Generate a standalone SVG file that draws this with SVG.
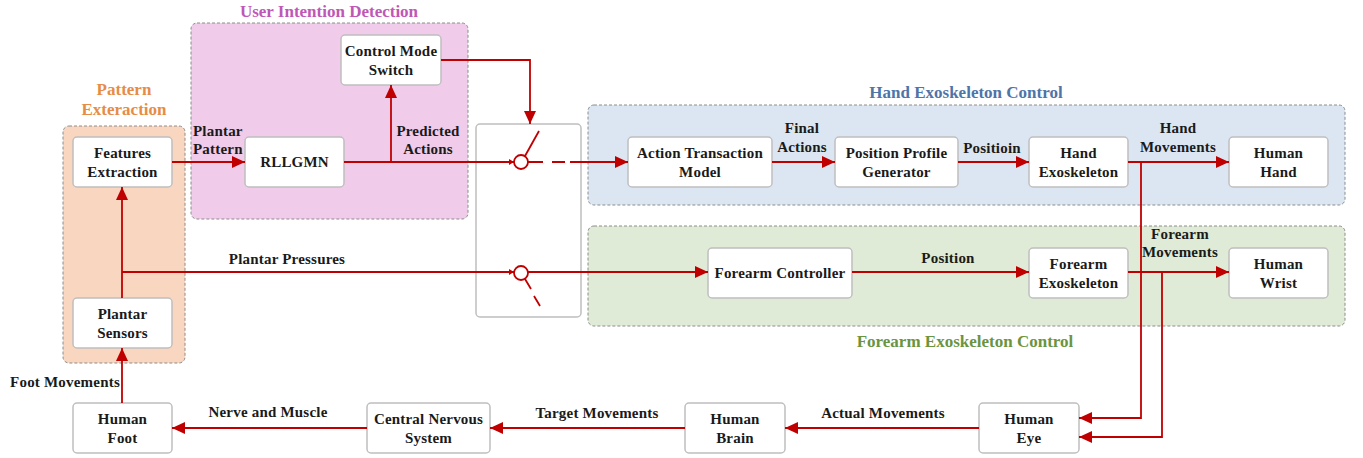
<svg xmlns="http://www.w3.org/2000/svg" width="1363" height="458" viewBox="0 0 1363 458">
<style>
.grp{stroke:#8c8c8c;stroke-width:1;stroke-dasharray:3,2}
.box{fill:#ffffff;stroke:#bfbfbf;stroke-width:1.5}
.t{font-family:"Liberation Serif","Times New Roman",serif;font-weight:bold;font-size:15px;letter-spacing:0.2px;fill:#1a1a1a;text-anchor:middle}
.tl{font-family:"Liberation Serif","Times New Roman",serif;font-weight:bold;font-size:17px;text-anchor:middle}
.ln{fill:none;stroke:#c00000;stroke-width:1.8}
.arr{marker-end:url(#ah)}
.sarr{marker-end:url(#sa)}
</style>
<defs>
<marker id="ah" markerUnits="userSpaceOnUse" markerWidth="14" markerHeight="12" refX="13" refY="6" orient="auto">
<path d="M0,0 L13,6 L0,12 z" fill="#c00000"/>
</marker>
<marker id="sa" markerUnits="userSpaceOnUse" markerWidth="6" markerHeight="6" refX="5" refY="3" orient="auto">
<path d="M0,0 L5,3 L0,6 z" fill="#c00000"/>
</marker>
</defs>

<!-- group backgrounds -->
<g id="group-pattern">
<rect class="grp" x="63" y="126" width="122" height="237" rx="6" fill="#f8d6c0"/>
<text class="tl" x="124" y="95" fill="#e68c46">Pattern</text>
<text class="tl" x="124" y="115" fill="#e68c46">Exteraction</text>
</g>
<g id="group-intention">
<rect class="grp" x="191" y="23" width="277" height="196" rx="6" fill="#f0cbea"/>
<text class="tl" x="329" y="17" fill="#c057b6">User Intention Detection</text>
</g>
<g id="group-hand">
<rect class="grp" x="588" y="105" width="757" height="100" rx="6" fill="#dce6f2"/>
<text class="tl" x="966" y="98" fill="#4f74a8">Hand Exoskeleton Control</text>
</g>
<g id="group-forearm">
<rect class="grp" x="588" y="226" width="757" height="100" rx="6" fill="#dfebd6"/>
<text class="tl" x="965" y="347" fill="#6b9440">Forearm Exoskeleton Control</text>
</g>

<!-- nodes -->
<g id="features-extraction">
<rect class="box" x="73" y="137" width="99" height="50" rx="4"/>
<text class="t" x="122.5" y="158">Features</text>
<text class="t" x="122.5" y="177">Extraction</text>
</g>
<g id="plantar-sensors">
<rect class="box" x="73" y="298" width="99" height="50" rx="4"/>
<text class="t" x="122.5" y="319">Plantar</text>
<text class="t" x="122.5" y="338">Sensors</text>
</g>
<g id="human-foot">
<rect class="box" x="73" y="403" width="99" height="50" rx="4"/>
<text class="t" x="122.5" y="424">Human</text>
<text class="t" x="122.5" y="443">Foot</text>
</g>
<g id="control-mode-switch">
<rect class="box" x="341" y="35" width="100" height="50" rx="4"/>
<text class="t" x="391" y="56">Control Mode</text>
<text class="t" x="391" y="75">Switch</text>
</g>
<g id="rllgmn">
<rect class="box" x="245" y="137" width="99" height="50" rx="4"/>
<text class="t" x="294.5" y="167">RLLGMN</text>
</g>
<g id="switch">
<rect class="box" x="476" y="124" width="105" height="193" rx="4" stroke="#a6a6a6"/>
</g>
<g id="action-transaction-model">
<rect class="box" x="628" y="137" width="144" height="50" rx="4"/>
<text class="t" x="700" y="158">Action Transaction</text>
<text class="t" x="700" y="177">Model</text>
</g>
<g id="position-profile-generator">
<rect class="box" x="835" y="137" width="123" height="50" rx="4"/>
<text class="t" x="896.5" y="158">Position Profile</text>
<text class="t" x="896.5" y="177">Generator</text>
</g>
<g id="hand-exoskeleton">
<rect class="box" x="1029" y="137" width="99" height="50" rx="4"/>
<text class="t" x="1078.5" y="158">Hand</text>
<text class="t" x="1078.5" y="177">Exoskeleton</text>
</g>
<g id="human-hand">
<rect class="box" x="1229" y="137" width="99" height="50" rx="4"/>
<text class="t" x="1278.5" y="158">Human</text>
<text class="t" x="1278.5" y="177">Hand</text>
</g>
<g id="forearm-controller">
<rect class="box" x="708" y="248" width="144" height="50" rx="4"/>
<text class="t" x="780" y="278">Forearm Controller</text>
</g>
<g id="forearm-exoskeleton">
<rect class="box" x="1029" y="248" width="99" height="50" rx="4"/>
<text class="t" x="1078.5" y="269">Forearm</text>
<text class="t" x="1078.5" y="288">Exoskeleton</text>
</g>
<g id="human-wrist">
<rect class="box" x="1229" y="248" width="99" height="50" rx="4"/>
<text class="t" x="1278.5" y="269">Human</text>
<text class="t" x="1278.5" y="288">Wrist</text>
</g>
<g id="central-nervous-system">
<rect class="box" x="367" y="403" width="123" height="50" rx="4"/>
<text class="t" x="428.5" y="424">Central Nervous</text>
<text class="t" x="428.5" y="443">System</text>
</g>
<g id="human-brain">
<rect class="box" x="685" y="403" width="100" height="50" rx="4"/>
<text class="t" x="735" y="424">Human</text>
<text class="t" x="735" y="443">Brain</text>
</g>
<g id="human-eye">
<rect class="box" x="979" y="403" width="100" height="50" rx="4"/>
<text class="t" x="1029" y="424">Human</text>
<text class="t" x="1029" y="443">Eye</text>
</g>

<!-- connectors -->
<g id="connectors">
<path class="ln arr" d="M172,162 H245"/>
<path class="ln sarr" d="M344,162 H514"/>
<path class="ln arr" d="M391,162 V85"/>
<path class="ln arr" d="M441,60 H530 V124"/>
<circle cx="521" cy="162" r="7" fill="#ffffff" stroke="#c00000" stroke-width="1.8"/>
<path class="ln" d="M525,156 L539,131"/>
<path class="ln" d="M528,162 H543 M552,162 H565"/>
<path class="ln arr" d="M570,162 H628"/>
<path class="ln arr" d="M122,298 V187"/>
<path class="ln sarr" d="M122,272 H514"/>
<circle cx="521" cy="273" r="7" fill="#ffffff" stroke="#c00000" stroke-width="1.8"/>
<path class="ln" d="M525,279 L531,289 M534,296 L540,306"/>
<path class="ln arr" d="M528,272 H708"/>
<path class="ln arr" d="M772,162 H835"/>
<path class="ln arr" d="M958,162 H1029"/>
<path class="ln arr" d="M1128,162 H1229"/>
<path class="ln arr" d="M1141,162 V418 H1079"/>
<path class="ln arr" d="M852,272 H1029"/>
<path class="ln arr" d="M1128,272 H1229"/>
<path class="ln arr" d="M1162,272 V437 H1079"/>
<path class="ln arr" d="M979,428 H785"/>
<path class="ln arr" d="M685,428 H490"/>
<path class="ln arr" d="M367,428 H172"/>
<path class="ln arr" d="M122,403 V348"/>
</g>

<!-- connector labels -->
<g id="labels">
<text class="t" x="193" y="136" style="text-anchor:start">Plantar</text>
<text class="t" x="193" y="154" style="text-anchor:start">Pattern</text>
<text class="t" x="428" y="136">Predicted</text>
<text class="t" x="428" y="154">Actions</text>
<text class="t" x="802" y="133">Final</text>
<text class="t" x="802" y="152">Actions</text>
<text class="t" x="992" y="153">Positioin</text>
<text class="t" x="1178" y="133">Hand</text>
<text class="t" x="1178" y="152">Movements</text>
<text class="t" x="287" y="264">Plantar Pressures</text>
<text class="t" x="948" y="263">Position</text>
<text class="t" x="1180" y="239">Forearm</text>
<text class="t" x="1180" y="257">Movements</text>
<text class="t" x="65" y="387">Foot Movements</text>
<text class="t" x="268" y="417">Nerve and Muscle</text>
<text class="t" x="597" y="418">Target Movements</text>
<text class="t" x="883" y="418">Actual Movements</text>
</g>
</svg>
